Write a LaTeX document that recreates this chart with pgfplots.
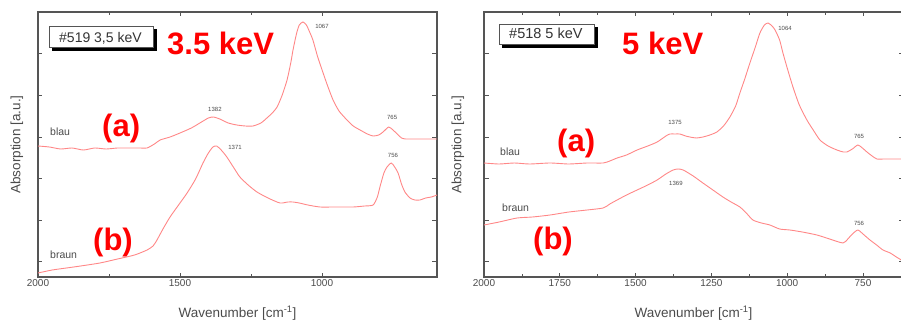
\documentclass[border=0pt]{standalone}
\usepackage{fontspec}
\setmainfont{Liberation Sans}
\usepackage{pgfplots}
\pgfplotsset{compat=1.18}
\definecolor{spec}{RGB}{255,135,135}
\definecolor{frm}{RGB}{85,85,85}
\definecolor{lbl}{RGB}{75,75,75}
\definecolor{redlbl}{RGB}{255,0,0}
\tikzset{
  plt/.style={spec, line width=0.9pt, smooth, tension=0.4},
  pk/.style={font=\fontsize{6}{7}\selectfont, text=lbl, anchor=center},
}
\begin{document}
\begin{tikzpicture}[x=1pt,y=1pt]
\useasboundingbox (0pt,0pt) rectangle (901pt,324pt);
\pgfplotsset{myax/.style={
  scale only axis, height=265pt, x dir=reverse,
  ymin=0, ymax=265,
  axis line style={frm, line width=1.3pt},
  tick style={frm, line width=0.8pt},
  major tick length=4.5pt, minor tick length=3.5pt,
  tick align=inside,
  ytick={16,57,99,140,182,224}, yticklabels={},
  minor x tick num=1,
  /pgf/number format/assume math mode=true,
  /pgf/number format/1000 sep={},
  xticklabel style={font=\fontsize{10}{11}\selectfont, text=lbl, anchor=center, yshift=-6pt},
  xlabel style={font=\fontsize{13.5}{15}\selectfont, text=lbl, at={(axis description cs:0.5,0)}, anchor=center, yshift=-36pt},
  ylabel style={font=\fontsize{13.5}{15}\selectfont, text=lbl, at={(axis description cs:0,0.5)}, anchor=center, rotate=0},
  clip=false,
  xlabel={Wavenumber [cm\textsuperscript{-1}]},
  ylabel={Absorption [a.u.]},
}}
% ---------------- left panel ----------------
\begin{axis}[myax, at={(38pt,47pt)}, anchor=south west, width=399pt,
  xmin=595, xmax=2000, xtick={2000,1500,1000},
  ylabel style={yshift=21pt}]
\addplot[plt, no marks] coordinates {
(2000,131) (1960,130) (1920,128) (1880,129) (1840,127) (1800,129) (1760,128)
(1720,129) (1680,129) (1640,129) (1616,129) (1590,133) (1570,137) (1535,140)
(1500,144) (1460,149) (1430,154) (1400,159) (1382,160) (1360,158) (1330,154)
(1300,152) (1270,151) (1243,151) (1215,154) (1194,159) (1175,164) (1158,170)
(1140,182) (1123,197) (1110,214) (1102,227) (1090,243) (1080,252) (1067,255)
(1055,252) (1045,246) (1032,237) (1015,220) (996,204) (980,191) (961,177)
(940,166) (912,157) (890,151) (866,147) (840,143) (820,141) (800,142)
(785,145) (765,150) (750,147) (735,143) (720,139) (705,138) (680,138)
(650,138) (620,138) (595,138)};
\addplot[plt, no marks] coordinates {
(2000,4) (1950,7) (1900,9) (1850,11) (1782,14) (1720,18) (1660,22) (1616,27)
(1595,31) (1581,37) (1560,48) (1535,60) (1505,72) (1475,84) (1445,98)
(1419,114) (1400,124) (1384,130) (1371,131) (1355,127) (1335,120) (1310,109)
(1289,100) (1260,92) (1229,85) (1190,79) (1148,74) (1120,75) (1102,75)
(1080,74) (1050,72) (1007,70) (960,70) (891,70) (850,71) (820,72) (805,80)
(796,90) (782,104) (771,110) (756,114) (744,110) (732,104) (720,93)
(708,85) (690,79) (673,77) (655,77) (635,79) (615,80) (595,82)};
\node[pk] at (axis cs:1377,168) {1382};
\node[pk] at (axis cs:1000,251) {1067};
\node[pk] at (axis cs:753,160) {765};
\node[pk] at (axis cs:1306,130) {1371};
\node[pk] at (axis cs:750,122) {756};
\end{axis}
% ---------------- right panel ----------------
\begin{axis}[myax, at={(484pt,47pt)}, anchor=south west, width=419pt,
  xmin=618, xmax=2000, xtick={2000,1750,1500,1250,1000,750},
  ylabel style={yshift=26pt}]
\addplot[plt, no marks] coordinates {
(2000,114) (1950,113) (1900,114) (1850,113) (1782,114) (1720,113) (1660,114)
(1607,114) (1585,116) (1561,119) (1530,122) (1495,127) (1460,131) (1429,135)
(1400,141) (1387,143) (1370,143) (1354,143) (1335,141) (1321,140) (1300,139)
(1278,140) (1255,142) (1232,145) (1210,151) (1189,160) (1170,171) (1156,184)
(1140,198) (1123,214) (1105,230) (1090,244) (1075,252) (1063,254) (1050,251)
(1040,247) (1025,237) (1014,224) (998,207) (981,190) (960,172) (935,157)
(912,146) (892,137) (865,131) (836,127) (815,125) (803,125) (785,128)
(767,132) (752,129) (737,125) (720,121) (704,118) (680,118) (650,118) (618,118)};
\addplot[plt, no marks] coordinates {
(2000,52) (1950,55) (1891,59) (1840,60) (1782,62) (1720,65) (1660,67)
(1607,69) (1585,73) (1561,77) (1530,82) (1495,87) (1460,92) (1429,97)
(1400,103) (1376,107) (1360,108) (1343,107) (1310,101) (1278,94) (1245,87)
(1212,80) (1185,75) (1156,70) (1135,64) (1113,57) (1085,54) (1057,52)
(1025,48) (991,47) (950,45) (902,42) (860,38) (816,34) (800,38) (785,43)
(767,47) (750,43) (727,37) (705,32) (684,27) (660,24) (640,20) (618,16)};
\node[pk] at (axis cs:1370,155) {1375};
\node[pk] at (axis cs:1007,249) {1064};
\node[pk] at (axis cs:763,141) {765};
\node[pk] at (axis cs:1367,94) {1369};
\node[pk] at (axis cs:763,54) {756};
\end{axis}
% ---------------- annotations ----------------
% left box
\fill[black] (52,273) rectangle (157,295);
\draw[frm, fill=white, line width=0.6pt] (49,277) rectangle (153,298);
\node[anchor=base west, inner sep=0, font=\fontsize{14}{15}\selectfont, text=black!80] at (59,281) {\#519 3,5 keV};
% right box
\fill[black] (502,276) rectangle (598,297);
\draw[frm, fill=white, line width=0.6pt] (499,280) rectangle (594,300);
\node[anchor=base west, inner sep=0, font=\fontsize{14.5}{15}\selectfont, text=black!80] at (509,285) {\#518 5 keV};
% red labels
\node[anchor=base west, inner sep=0, font=\fontsize{31}{33}\selectfont\bfseries, text=redlbl] at (167,269) {3.5 keV};
\node[anchor=base west, inner sep=0, font=\fontsize{31}{33}\selectfont\bfseries, text=redlbl] at (102,187.5) {(a)};
\node[anchor=base west, inner sep=0, font=\fontsize{31}{33}\selectfont\bfseries, text=redlbl] at (93,73.5) {(b)};
\node[anchor=base west, inner sep=0, font=\fontsize{31}{33}\selectfont\bfseries, text=redlbl] at (622,269) {5 keV};
\node[anchor=base west, inner sep=0, font=\fontsize{31}{33}\selectfont\bfseries, text=redlbl] at (557,172.5) {(a)};
\node[anchor=base west, inner sep=0, font=\fontsize{31}{33}\selectfont\bfseries, text=redlbl] at (533,75) {(b)};
% series names
\node[anchor=base west, inner sep=0, font=\fontsize{10.5}{12}\selectfont, text=lbl] at (50,188) {blau};
\node[anchor=base west, inner sep=0, font=\fontsize{10.5}{12}\selectfont, text=lbl] at (50,66) {braun};
\node[anchor=base west, inner sep=0, font=\fontsize{10.5}{12}\selectfont, text=lbl] at (500,168) {blau};
\node[anchor=base west, inner sep=0, font=\fontsize{10.5}{12}\selectfont, text=lbl] at (502,113) {braun};
\end{tikzpicture}
\end{document}
